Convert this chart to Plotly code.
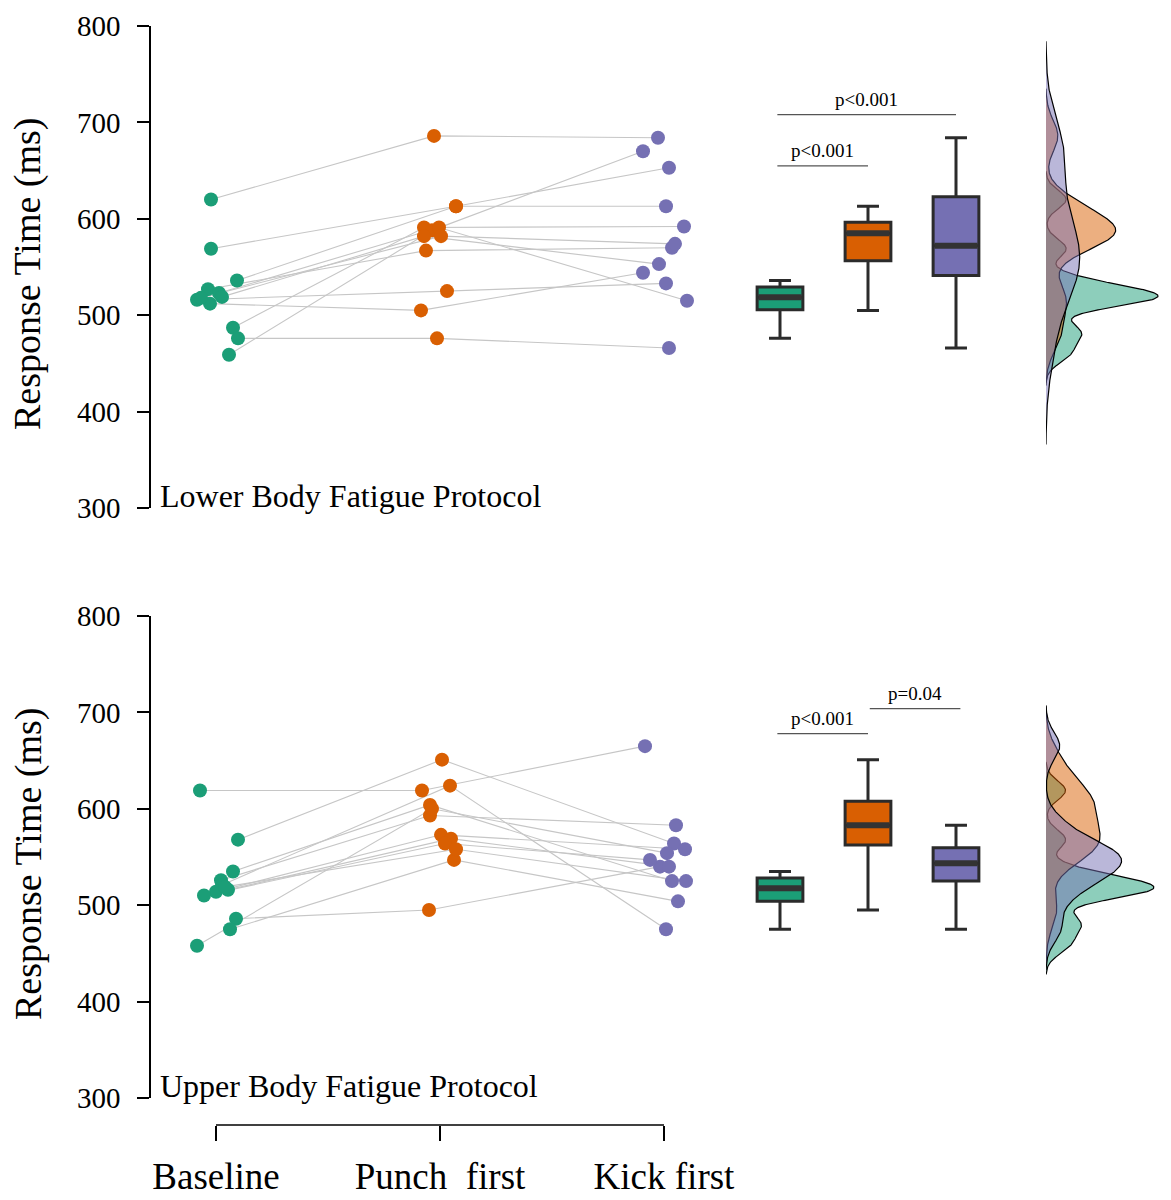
import numpy as np
import plotly.graph_objects as go

# ---------------- data ----------------
categories = ["Baseline", "Punch  first", "Kick first"]
colors = ["#1b9e77", "#d95f02", "#7570b3"]
fills = ["rgba(27,158,119,0.5)", "rgba(217,95,2,0.5)", "rgba(117,112,179,0.5)"]

# Lower body fatigue protocol (one entry per participant)
baseline_top = [620, 569, 536, 487, 459, 476, 516, 512, 527, 523, 519, 518]
punch_top = [686, 613, 613, 591, 588, 476, 525, 505, 567, 591, 582, 582]
kick_top = [684, 653, 613, 592, 670, 466, 533, 544, 570, 515, 553, 574]

# Upper body fatigue protocol
baseline_bot = [619, 568, 535, 526, 458, 486, 475, 521, 514, 516, 510, 519]
punch_bot = [619, 651, 604, 593, 600, 495, 547, 624, 573, 569, 564, 558]
kick_bot = [665, 564, 525, 583, 554, 540, 504, 475, 558, 540, 547, 525]

# horizontal jitter (pixels)
jit_top = [
    [-5, -5, 21, 17, 13, 22, -19, -6, -8, 3, 6, -15],
    [-6, 16, 16, -16, -8, -3, 7, -19, -14, -1, -16, 1],
    [-6, 5, 2, 20, -21, 5, 2, -21, 8, 23, -5, 11],
]
jit_bot = [
    [-16, 22, 17, 5, -19, 20, 14, 6, 0, 12, -12, 9],
    [-18, 2, -10, -10, -8, -11, 14, 10, 1, 11, 5, 16],
    [-19, 10, 8, 12, 3, -4, 14, 2, 21, 5, -14, 22],
]

sig_top = [("p<0.001", -0.03, 1.0, 655), ("p<0.001", -0.03, 2.0, 708)]
sig_bot = [("p<0.001", -0.03, 1.0, 678), ("p=0.04", 1.02, 2.05, 704)]

W, H = 1171, 1200
FONT = "Liberation Serif, Times New Roman, serif"
CAT_PX = 224.0


def px2fx(p):
    return p / W


def py2fy(p):
    return 1 - p / H


def bw_nrd0(x):
    x = np.asarray(x, float)
    hi = np.std(x, ddof=1)
    q75, q25 = np.percentile(x, [75, 25])
    lo = min(hi, (q75 - q25) / 1.34)
    return 0.9 * lo * len(x) ** (-0.2)


def kde(x):
    x = np.asarray(x, float)
    bw = bw_nrd0(x)
    g = np.linspace(x.min() - 3 * bw, x.max() + 3 * bw, 512)
    d = np.exp(-0.5 * ((g[:, None] - x[None, :]) / bw) ** 2).sum(1) / (bw * np.sqrt(2 * np.pi) * len(x))
    return g, d


def box_stats(x):
    x = np.asarray(x, float)
    q1, med, q3 = np.percentile(x, [25, 50, 75])
    iqr = q3 - q1
    lo = x[x >= q1 - 1.5 * iqr].min()
    hi = x[x <= q3 + 1.5 * iqr].max()
    return q1, med, q3, lo, hi


fig = go.Figure()

panels = [
    dict(groups=[baseline_top, punch_top, kick_top], jit=jit_top, sig=sig_top,
         xs=("x", "x2", "x3"), y="y", label="Lower Body Fatigue Protocol", top=26, bottom=508),
    dict(groups=[baseline_bot, punch_bot, kick_bot], jit=jit_bot, sig=sig_bot,
         xs=("x4", "x5", "x6"), y="y2", label="Upper Body Fatigue Protocol", top=616, bottom=1098),
]

dens_max = max(kde(g)[1].max() for p in panels for g in p["groups"])
dens_range = dens_max * 125.0 / 112.0

shapes = []
annotations = []

for p in panels:
    groups, jit = p["groups"], p["jit"]
    xa, xb, xc = p["xs"]
    ya = p["y"]
    n = len(groups[0])
    # connecting lines per participant
    for i in range(n):
        fig.add_trace(go.Scatter(
            x=[k + jit[k][i] / CAT_PX for k in range(3)],
            y=[groups[k][i] for k in range(3)],
            mode="lines", line=dict(color="#c6c6c6", width=1.1),
            xaxis=xa, yaxis=ya, showlegend=False, hoverinfo="skip"))
    # points
    for k in range(3):
        fig.add_trace(go.Scatter(
            x=[k + j / CAT_PX for j in jit[k]], y=groups[k], mode="markers",
            marker=dict(color=colors[k], size=14, line=dict(width=0)),
            xaxis=xa, yaxis=ya, showlegend=False))
    # boxes (Tukey whiskers, outliers not drawn)
    for k in range(3):
        q1, med, q3, lo, hi = box_stats(groups[k])
        fig.add_trace(go.Box(
            x=[k], q1=[q1], median=[med], q3=[q3], lowerfence=[lo], upperfence=[hi],
            boxpoints=False, width=0.52, whiskerwidth=0.48,
            fillcolor=colors[k], line=dict(color="#2b2b2b", width=3),
            xaxis=xb, yaxis=ya, showlegend=False))
        fig.add_trace(go.Scatter(
            x=[k - 0.245, k + 0.245], y=[med, med], mode="lines",
            line=dict(color="#333333", width=6),
            xaxis=xb, yaxis=ya, showlegend=False, hoverinfo="skip"))
    # densities
    for k in range(3):
        g, d = kde(groups[k])
        fig.add_trace(go.Scatter(
            x=np.concatenate([[0], d, [0]]), y=np.concatenate([[g[0]], g, [g[-1]]]),
            fill="toself", fillcolor=fills[k], mode="lines",
            line=dict(color="black", width=1.2),
            xaxis=xc, yaxis=ya, showlegend=False, hoverinfo="skip"))
    # significance bars
    for txt, x0, x1, yv in p["sig"]:
        shapes.append(dict(type="line", xref=xb, yref=ya, x0=x0, x1=x1, y0=yv, y1=yv,
                           line=dict(color="#555555", width=1.2)))
        annotations.append(dict(text=txt, xref=xb, yref=ya, x=(x0 + x1) / 2, y=yv,
                                yshift=3, showarrow=False, yanchor="bottom",
                                font=dict(family=FONT, size=19, color="black")))
    # panel label
    annotations.append(dict(text=p["label"], xref="paper", yref="paper",
                            x=px2fx(158), y=py2fy(p["bottom"] - 12), xanchor="left",
                            yanchor="middle", showarrow=False,
                            font=dict(family=FONT, size=32, color="black")))
    # y title
    annotations.append(dict(text="Response Time (ms)", xref="paper", yref="paper",
                            x=px2fx(28), y=py2fy((p["top"] + p["bottom"]) / 2 + 7),
                            textangle=-90, showarrow=False, xanchor="center",
                            yanchor="middle",
                            font=dict(family=FONT, size=38, color="black")))

# bottom category axis line (only between first and last category)
shapes.append(dict(type="line", xref="x4", yref="paper", x0=0, x1=2,
                   y0=py2fy(1125), y1=py2fy(1125), line=dict(color="black", width=1.5)))

pts_dom = [px2fx(150), px2fx(740)]
pts_rng = [(150 - 216) / CAT_PX, (740 - 216) / CAT_PX]
box_dom = [px2fx(740), px2fx(1000)]
box_rng = [(740 - 780) / 88.0, (1000 - 780) / 88.0]
den_dom = [px2fx(1046), 1.0]

hidden = dict(visible=False, showgrid=False, zeroline=False, automargin=False)


def yaxis_for(top, bottom):
    return dict(domain=[py2fy(bottom), py2fy(top)], range=[300, 800], anchor="free",
                position=px2fx(150), automargin=False,
                tickvals=[300, 400, 500, 600, 700, 800], ticks="outside", ticklen=12,
                tickwidth=1.5, tickcolor="black", showline=True, linecolor="black",
                linewidth=1.5, showgrid=False, zeroline=False, ticklabelstandoff=11,
                tickfont=dict(family=FONT, size=29, color="black"))


fig.update_layout(
    width=W, height=H, margin=dict(l=0, r=0, t=0, b=0, pad=0, autoexpand=False),
    plot_bgcolor="white", paper_bgcolor="white", showlegend=False,
    xaxis=dict(domain=pts_dom, range=pts_rng, anchor="y", **hidden),
    xaxis2=dict(domain=box_dom, range=box_rng, anchor="y", **hidden),
    xaxis3=dict(domain=den_dom, range=[0, dens_range], anchor="y", **hidden),
    xaxis4=dict(domain=pts_dom, range=pts_rng, anchor="free", position=py2fy(1125),
                tickvals=[0, 1, 2], ticktext=categories, ticks="outside", ticklen=15,
                tickwidth=1.5, tickcolor="black", showline=False, showgrid=False,
                zeroline=False, ticklabelstandoff=4, automargin=False,
                tickfont=dict(family=FONT, size=37, color="black")),
    xaxis5=dict(domain=box_dom, range=box_rng, anchor="y2", **hidden),
    xaxis6=dict(domain=den_dom, range=[0, dens_range], anchor="y2", **hidden),
    yaxis=yaxis_for(26, 508),
    yaxis2=yaxis_for(616, 1098),
    shapes=shapes, annotations=annotations,
)

fig.write_html("out.html", config={"displayModeBar": False},
               post_script="document.body.style.margin='0';document.body.style.padding='0';")
